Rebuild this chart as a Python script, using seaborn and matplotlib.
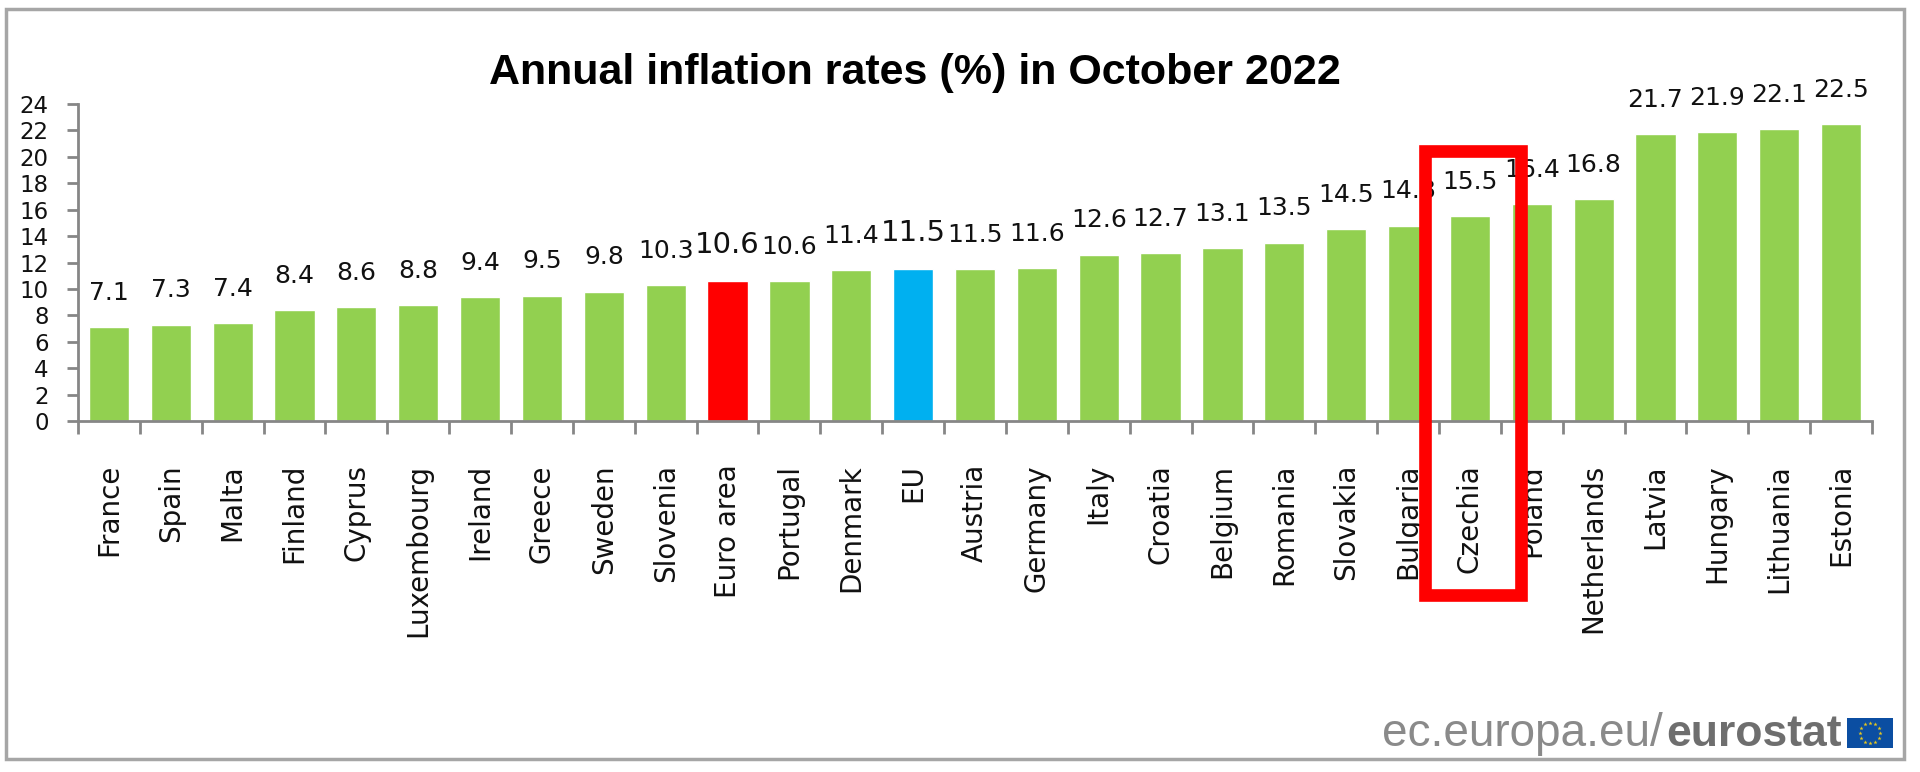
import numpy as np
import matplotlib
matplotlib.use("Agg")
import matplotlib.pyplot as plt
from matplotlib.patches import Rectangle
import seaborn as sns

countries = ["France", "Spain", "Malta", "Finland", "Cyprus", "Luxembourg", "Ireland", "Greece",
             "Sweden", "Slovenia", "Euro area", "Portugal", "Denmark", "EU", "Austria", "Germany",
             "Italy", "Croatia", "Belgium", "Romania", "Slovakia", "Bulgaria", "Czechia", "Poland",
             "Netherlands", "Latvia", "Hungary", "Lithuania", "Estonia"]
rates = [7.1, 7.3, 7.4, 8.4, 8.6, 8.8, 9.4, 9.5, 9.8, 10.3, 10.6, 10.6, 11.4, 11.5, 11.5, 11.6,
         12.6, 12.7, 13.1, 13.5, 14.5, 14.8, 15.5, 16.4, 16.8, 21.7, 21.9, 22.1, 22.5]
y_ticks = list(range(0, 25, 2))

GREEN = "#92d050"
GREY = "#868686"
W, H = 1920, 772

sns.set_theme(style="white")
plt.rcParams["font.family"] = ["DejaVu Sans"]


def fx(px):
    return px / W


def fy(py):
    return 1 - py / H


fig = plt.figure(figsize=(W / 100, H / 100), dpi=100, facecolor="white")
ax = fig.add_axes([fx(78), fy(421), fx(1872 - 78), (421 - 104) / H], zorder=2)
ax.patch.set_alpha(0)

palette = {c: GREEN for c in countries}
palette["Euro area"] = "#ff0000"
palette["EU"] = "#00b0f0"
sns.barplot(x=countries, y=rates, hue=countries, palette=palette, width=0.65, legend=False,
            saturation=1, ax=ax)

# value labels, the two aggregates are bigger
for name, container in zip(countries, ax.containers):
    big = name in ("Euro area", "EU")
    ax.bar_label(container, fmt="%.1f", padding=16, fontsize=21 if big else 18, color="#111111")

ax.set_xlim(-0.5, len(countries) - 0.5)
ax.set_ylim(0, 24)
ax.set_yticks(y_ticks)
ax.set_xlabel("")
ax.set_ylabel("")
ax.tick_params(axis="y", left=True, length=8, width=2, color=GREY, labelsize=16.5, pad=13,
               labelcolor="#111111")
ax.set_xticks(np.arange(-0.5, len(countries)), minor=True)
ax.tick_params(axis="x", which="minor", bottom=True, length=9, width=2, color=GREY)
ax.tick_params(axis="x", which="major", bottom=False, length=0, labelsize=20, pad=31,
               labelcolor="#111111")
plt.setp(ax.get_xticklabels(), rotation=90, ha="center", va="top")
sns.despine(ax=ax)
for side in ("left", "bottom"):
    ax.spines[side].set_color(GREY)
    ax.spines[side].set_linewidth(2)

# outer frame and the highlight box around Czechia
fig.add_artist(Rectangle((fx(6), fy(759)), fx(1904 - 6), (759 - 9) / H, transform=fig.transFigure,
                         fill=False, edgecolor="#a6a6a6", linewidth=2.5, zorder=1))
fig.add_artist(Rectangle((fx(1425.3), fy(594.7)), fx(1520.7 - 1425.3), (594.7 - 151.3) / H,
                         transform=fig.transFigure, fill=False, edgecolor="#ff0000",
                         linewidth=9.1, joinstyle="miter", zorder=10))

fig.text(fx(915), fy(84), "Annual inflation rates (%) in October 2022", ha="center", va="baseline",
         fontsize=31, fontweight="bold", family="Liberation Sans", color="black")

# eurostat signature
fig.text(fx(1663), fy(746), "ec.europa.eu/", ha="right", va="baseline", fontsize=33,
         family="Liberation Sans", color="#8a8a8a")
fig.text(fx(1666), fy(746), "eurostat", ha="left", va="baseline", fontsize=32, fontweight="bold",
         family="Liberation Sans", color="#6e6e6e")

flag = fig.add_axes([fx(1847), fy(748), fx(46), 30 / H], zorder=3)
flag.set_facecolor("#0b4ea2")
flag.set_xlim(-1.5, 1.5)
flag.set_ylim(-1, 1)
flag.set_xticks([])
flag.set_yticks([])
for s in flag.spines.values():
    s.set_visible(False)
angles = np.deg2rad(np.arange(0, 360, 30))
flag.scatter(0.68 * np.cos(angles), 0.68 * np.sin(angles), marker="*", s=10, color="#e8c81e",
             linewidths=0)

fig.savefig("out.png", dpi=100)
plt.close(fig)
